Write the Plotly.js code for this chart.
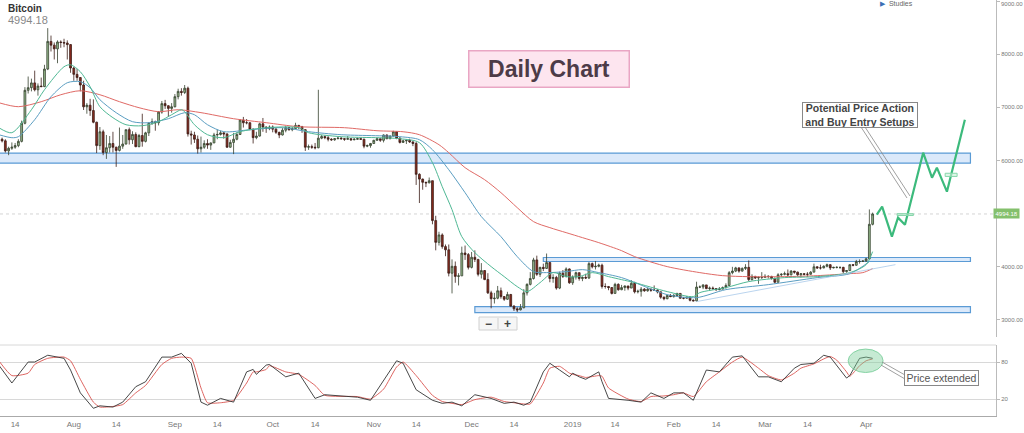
<!DOCTYPE html>
<html><head><meta charset="utf-8">
<script src="https://cdn.plot.ly/plotly-3.0.1.min.js"></script>
<style>html,body{margin:0;padding:0;background:#fff}#chart{width:1024px;height:433px}</style>
</head><body><div id="chart"></div><script>
// ---------- DATA ----------
const firstDay = '2018-07-10';
const open = [
 6400,6370,6180,6230,6250,6280,6360,6700,7320,7370,7460,7330,7400,7390,7720,8240,8170,8100,8230,8220,8210,8180,
 7740,7620,7560,7420,7010,7040,6940,6720,6280,6540,6150,6240,6320,6250,6190,6270,6310,6580,6390,6490,6260,6470,6360,6520,6700,6730,6710,6910,7070,7030,6980,
 7010,7200,7300,7280,7360,6500,6480,6400,6220,6250,6320,6290,6330,6480,6490,6520,6500,6250,6340,6400,6490,6760,6710,6710,6590,6430,6460,6690,6630,6600,
 6630,6590,6530,6480,6570,6620,6580,6600,6660,6640,6580,6250,6260,6250,6240,6420,6450,6430,6400,6390,6410,6420,6410,6400,6410,6390,6400,6410,6400,6270,6280,
 6320,6380,6410,6380,6480,6410,6460,6540,6420,6340,6370,6380,6350,6320,5740,5650,5590,5580,5620,4870,4460,4600,4380,4320,3880,4010,3820,3830,4260,4230,
 3990,4180,4140,3860,3930,3760,3510,3400,3410,3550,3440,3390,3480,3260,3210,3190,3230,3510,3670,3780,4130,3860,3990,3970,4080,3780,3800,3600,3880,3820,3960,
 3700,3810,3890,3780,3800,3790,4060,4000,4010,4030,3630,3630,3610,3500,3670,3570,3610,3640,3600,3690,3530,3540,3580,3550,3580,3560,3560,3530,3430,3400,3460,
 3440,3460,3500,3410,3410,3430,3370,3360,3620,3620,3660,3590,3600,3590,3570,3580,3610,3650,3890,3920,3980,3920,3970,3990,3760,3820,3790,3800,
 3800,3820,3820,3780,3710,3850,3860,3870,3850,3920,3900,3850,3870,3860,3860,3900,4000,3980,3980,4010,4040,3980,3990,3990,3990,3910,3930,4040,4030,4100,4100,
 4110,4150,4800];
const high = [
 6430,6400,6260,6340,6330,6400,6750,7380,7580,7540,7690,7450,7560,7800,8490,8350,8220,8260,8260,8290,8260,8190,
 7760,7720,7570,7500,7080,7160,7150,6730,6630,6580,6480,6460,6540,6260,6620,6480,6580,6620,6550,6530,6500,6880,6540,6720,6790,6750,6930,7120,7140,7040,7080,
 7250,7350,7360,7420,7390,6560,6540,6470,6450,6380,6400,6340,6520,6580,6560,6530,6510,6390,6520,6530,6780,6820,6780,6720,6600,6540,6710,6800,6640,6660,
 6660,6610,6540,6610,6650,6630,6630,6710,6670,6650,6590,6300,6300,6330,7330,6480,6470,6460,6420,6420,6450,6440,6420,6460,6420,6420,6430,6420,6410,6300,6330,
 6390,6430,6410,6490,6490,6470,6560,6550,6440,6390,6390,6410,6360,6350,5760,5660,5600,5680,5620,4960,4660,4630,4420,4420,4140,4100,3880,4380,4400,4260,
 4280,4310,4140,4070,3940,3880,3550,3510,3640,3610,3450,3530,3490,3280,3240,3300,3580,3690,3900,4170,4210,4000,4060,4250,4090,3860,3830,3910,3940,3990,3970,
 3840,3910,3890,3820,3870,4090,4080,4110,4060,4060,3690,3640,3620,3700,3690,3660,3650,3640,3750,3720,3570,3620,3600,3600,3590,3650,3580,3530,3440,3480,3490,
 3490,3510,3500,3430,3440,3440,3390,3720,3650,3670,3660,3630,3630,3600,3620,3630,3690,3920,4000,4000,3990,3990,4050,4120,3860,3830,3820,3900,
 3860,3840,3830,3800,3880,3880,3910,3950,3940,3920,3910,3880,3880,3900,3920,4060,4010,4040,4030,4060,4050,4000,4010,4000,4000,3940,4050,4050,4130,4140,4120,
 4170,5080,5020];
const low = [
 6340,6150,6100,6200,6220,6250,6340,6680,7260,7300,7300,7220,7380,7380,7700,8050,7900,7830,8120,8130,7900,7650,
 7500,7500,7300,6950,6880,6840,6700,6140,6200,6100,6030,6150,6150,5880,6170,6220,6300,6300,6310,6250,6250,6260,6340,6460,6670,6560,6660,6880,6970,6820,6900,
 7000,7150,7220,7250,6450,6300,6330,6130,6150,6220,6220,6200,6330,6400,6470,6410,6240,6240,6120,6380,6480,6620,6680,6570,6320,6400,6450,6540,6520,6570,
 6530,6500,6420,6470,6530,6560,6550,6590,6590,6520,6180,6200,6220,6210,6230,6400,6400,6360,6370,6370,6400,6390,6370,6390,6370,6380,6390,6390,6230,6250,6240,
 6310,6370,6350,6340,6400,6400,6450,6400,6320,6330,6310,6330,6270,5540,5200,5450,5500,5570,4800,4310,4400,4340,4200,3820,3500,3700,3650,3830,4130,3950,
 3970,4090,3820,3780,3750,3490,3220,3310,3390,3400,3360,3380,3260,3170,3150,3180,3220,3460,3650,3760,3830,3810,3920,3960,3710,3700,3570,3580,3790,3800,3680,
 3660,3760,3740,3730,3770,3770,3970,3950,3990,3590,3590,3560,3480,3500,3550,3560,3550,3560,3600,3500,3500,3440,3530,3530,3530,3550,3500,3400,3370,3390,3430,
 3420,3440,3400,3390,3400,3350,3350,3350,3600,3580,3580,3550,3570,3550,3560,3580,3590,3640,3860,3900,3890,3910,3940,3730,3740,3770,3680,3770,
 3800,3780,3760,3690,3700,3810,3840,3820,3840,3870,3830,3800,3840,3810,3850,3900,3960,3950,3970,3990,3940,3970,3970,3960,3880,3890,3920,4010,4020,4060,4090,
 4090,4140,4780];
const close = [
 6370,6180,6230,6250,6280,6360,6700,7320,7370,7460,7330,7400,7390,7720,8240,8170,8100,8230,8220,8210,8180,7740,
 7620,7560,7420,7010,7040,6940,6720,6280,6540,6150,6240,6320,6250,6190,6270,6310,6580,6390,6490,6260,6470,6360,6520,6700,6730,6710,6910,7070,7030,6980,7010,
 7200,7300,7280,7360,6500,6480,6400,6220,6250,6320,6290,6330,6480,6490,6520,6500,6250,6340,6400,6490,6760,6710,6710,6590,6430,6460,6690,6630,6600,6630,
 6590,6530,6480,6570,6620,6580,6600,6660,6640,6580,6250,6260,6250,6240,6420,6450,6430,6400,6390,6410,6420,6410,6400,6410,6390,6400,6410,6400,6270,6280,6320,
 6380,6410,6380,6480,6410,6460,6540,6420,6340,6370,6380,6350,6320,5740,5650,5590,5580,5620,4870,4460,4600,4380,4320,3880,4010,3820,3830,4260,4230,3990,
 4180,4140,3860,3930,3760,3510,3400,3410,3550,3440,3390,3480,3260,3210,3190,3230,3510,3670,3780,4130,3860,3990,3970,4080,3780,3800,3600,3880,3820,3960,3700,
 3810,3890,3780,3800,3790,4060,4000,4010,4030,3630,3630,3610,3500,3670,3570,3610,3640,3600,3690,3530,3540,3580,3550,3580,3560,3560,3530,3430,3400,3460,3440,
 3460,3500,3410,3410,3430,3370,3360,3620,3620,3660,3590,3600,3590,3570,3580,3610,3650,3890,3920,3980,3920,3970,3990,3760,3820,3790,3800,3800,
 3820,3820,3780,3710,3850,3860,3870,3850,3920,3900,3850,3870,3860,3860,3900,4000,3980,3980,4010,4040,3980,3990,3990,3990,3910,3930,4040,4030,4100,4100,4110,
 4150,4800,4994.18];
const lastPrice = 4994.18;

// moving averages
const slowMaDates = ['2018-07-09','2018-07-15','2018-07-22','2018-07-28','2018-08-03','2018-08-09','2018-08-15','2018-08-21','2018-08-27','2018-09-02','2018-09-09','2018-09-19','2018-09-29','2018-10-09','2018-10-23','2018-11-02','2018-11-10','2018-11-15','2018-11-21','2018-11-24','2018-11-29','2018-12-05','2018-12-10','2018-12-15','2018-12-20','2018-12-25','2018-12-30','2019-01-04','2019-01-09','2019-01-16','2019-01-20','2019-01-30','2019-02-09','2019-02-16','2019-02-24','2019-03-07','2019-03-17','2019-03-27','2019-03-31','2019-04-03'];
const slowMa = [7087,7012,7106,7237,7312,7237,7106,6993,6918,6955,6900,6786,6711,6636,6617,6560,6541,6485,6297,6147,5865,5639,5395,5113,4850,4737,4643,4549,4455,4304,4192,4004,3891,3834,3815,3815,3834,3872,3891,3966];
const midMaDates = ['2018-07-09','2018-07-13','2018-07-15','2018-07-20','2018-07-25','2018-07-30','2018-08-03','2018-08-06','2018-08-09','2018-08-14','2018-08-19','2018-08-24','2018-08-30','2018-09-04','2018-09-07','2018-09-11','2018-09-16','2018-09-24','2018-10-04','2018-10-12','2018-10-22','2018-11-09','2018-11-15','2018-11-19','2018-11-24','2018-11-29','2018-12-04','2018-12-10','2018-12-15','2018-12-20','2018-12-24','2018-12-30','2019-01-04','2019-01-09','2019-01-16','2019-01-30','2019-02-08','2019-02-17','2019-03-02','2019-03-17','2019-03-27','2019-04-02'];
const midMa = [6485,6429,6448,6767,7200,7463,7482,7369,7143,6899,6730,6711,6786,6899,6861,6673,6542,6579,6617,6542,6485,6448,6391,6203,5827,5395,4944,4568,4192,3910,3891,3910,3947,3891,3797,3477,3421,3571,3665,3797,3872,4098];
const fastMaDates = ['2018-07-09','2018-07-13','2018-07-19','2018-07-23','2018-07-29','2018-07-31','2018-08-03','2018-08-06','2018-08-09','2018-08-13','2018-08-17','2018-08-22','2018-08-27','2018-08-31','2018-09-03','2018-09-04','2018-09-07','2018-09-11','2018-09-16','2018-09-21','2018-09-29','2018-10-09','2018-10-12','2018-10-22','2018-11-09','2018-11-15','2018-11-19','2018-11-22','2018-11-25','2018-11-28','2018-12-02','2018-12-07','2018-12-11','2018-12-15','2018-12-18','2018-12-22','2018-12-26','2018-12-30','2019-01-03','2019-01-07','2019-01-12','2019-01-16','2019-01-20','2019-01-30','2019-02-07','2019-02-09','2019-02-17','2019-02-24','2019-03-07','2019-03-17','2019-03-27','2019-04-01','2019-04-03'];
const fastMa = [6617,6523,6955,7331,7764,7801,7670,7388,7012,6805,6673,6654,6730,6861,6955,6918,6673,6485,6429,6542,6617,6617,6523,6448,6410,6335,5959,5508,5075,4568,4267,4004,3816,3628,3534,3703,3891,3816,3816,3891,3816,3759,3703,3534,3440,3515,3609,3722,3797,3816,3891,4041,4286];
const trendDates = ['2019-02-08','2019-04-10'];
const trendVals = [3346,4041];

// projected path
const projDates = ['2019-04-04 07:00','2019-04-05 22:00','2019-04-08 22:00','2019-04-10 19:00','2019-04-12 22:00','2019-04-18 12:00','2019-04-21 05:00','2019-04-22 17:00','2019-04-25 19:00','2019-05-01 07:00'];
const projVals = [4981,5132,4568,4925,4793,6147,5677,5865,5414,6767];

// zones (price bands)
const zoneLow = [5950,4100,3140];
const zoneHigh = [6140,4175,3250];
const zoneStart = ['2018-07-01','2018-12-23','2018-12-02'];
const zoneEnd = '2019-05-03';

// stochastic
const stochDates = ['2018-07-09','2018-07-13','2018-07-18','2018-07-20','2018-07-24','2018-07-29','2018-07-31','2018-08-03','2018-08-07','2018-08-09','2018-08-13','2018-08-16','2018-08-20','2018-08-23','2018-08-28','2018-08-31','2018-09-03','2018-09-06','2018-09-09','2018-09-11','2018-09-15','2018-09-19','2018-09-23','2018-09-25','2018-09-26','2018-09-29','2018-09-30','2018-10-05','2018-10-09','2018-10-14','2018-10-17','2018-10-27','2018-10-31','2018-11-04','2018-11-08','2018-11-10','2018-11-14','2018-11-19','2018-11-22','2018-11-25','2018-11-28','2018-12-02','2018-12-07','2018-12-11','2018-12-14','2018-12-17','2018-12-19','2018-12-23','2018-12-25','2018-12-28','2018-12-31','2019-01-01','2019-01-03','2019-01-05','2019-01-09','2019-01-10','2019-01-12','2019-01-18','2019-01-22','2019-01-25','2019-01-29','2019-02-01','2019-02-04','2019-02-07','2019-02-11','2019-02-15','2019-02-19','2019-02-22','2019-02-27','2019-03-02','2019-03-06','2019-03-10','2019-03-12','2019-03-16','2019-03-19','2019-03-21','2019-03-23','2019-03-26','2019-03-27','2019-03-30','2019-04-01','2019-04-03'];
const stochK = [75,46,80,80,91,86,67,30,5,9,7,15,40,48,88,88,94,78,15,10,21,15,64,68,60,75,76,56,62,21,27,23,18,51,82,78,35,18,13,15,9,27,21,13,15,10,15,64,78,67,56,62,56,52,64,48,21,18,15,30,21,30,30,18,67,64,88,90,56,56,48,70,76,78,91,88,75,54,58,86,88,86];
const stochD = [82,58,62,76,86,88,82,52,15,7,8,11,30,42,76,86,88,86,38,14,14,18,46,64,64,68,74,64,60,42,26,24,20,36,72,80,58,26,16,13,11,19,23,16,14,12,12,46,70,73,62,60,58,55,58,57,38,20,16,24,25,27,30,24,48,64,80,88,70,58,51,62,70,77,85,89,83,64,57,74,82,85];

// axis ticks
const xTickVals = ['2018-07-14','2018-08-01','2018-08-14','2018-09-01','2018-09-14','2018-10-01','2018-10-14','2018-11-01','2018-11-14','2018-12-01','2018-12-14','2019-01-01','2019-01-14','2019-02-01','2019-02-14','2019-03-01','2019-03-14','2019-04-01'];
const xTickText = ['14','Aug','14','Sep','14','Oct','14','Nov','14','Dec','14','2019','14','Feb','14','Mar','14','Apr'];
const priceTicks = [3000,4000,6000,7000,8000,9000];
const priceTickText = ['3000.00','4000.00','6000.00','7000.00','8000.00',''];
const topPriceLabel = '9000.00';
const stochTicks = [20,80];
const stochTickText = ['20','80'];

// ---------- CHART ----------
function dayList(start, n){
  const out=[]; const t0=Date.parse(start+'T00:00:00Z');
  for(let i=0;i<n;i++) out.push(new Date(t0+i*86400000).toISOString().slice(0,10));
  return out;
}
const dates = dayList(firstDay, close.length);

const W=1024,H=433,M={l:0,r:28,t:0,b:17};
const PW=W-M.l-M.r, PH=H-M.t-M.b;
const px = x => x/PW, py = y => 1 - y/PH;
const FONT = 'Arial, "Liberation Sans", sans-serif';
const xRange = ['2018-07-09 08:40','2019-05-10 20:10'];

const traces = [
  {type:'candlestick', x:dates, open:open, high:high, low:low, close:close, xaxis:'x', yaxis:'y',
   increasing:{fillcolor:'#95b98c', line:{color:'#36412f', width:0.8}},
   decreasing:{fillcolor:'#8c2b1f', line:{color:'#3b1d17', width:0.8}},
   whiskerwidth:0, hoverinfo:'skip', showlegend:false},
  {type:'scatter', mode:'lines', x:slowMaDates, y:slowMa, line:{color:'#e06a66', width:1, shape:'spline', smoothing:0.8}, hoverinfo:'skip', showlegend:false},
  {type:'scatter', mode:'lines', x:midMaDates, y:midMa, line:{color:'#5b9ec2', width:1, shape:'spline', smoothing:0.8}, hoverinfo:'skip', showlegend:false},
  {type:'scatter', mode:'lines', x:fastMaDates, y:fastMa, line:{color:'#4fb894', width:1, shape:'spline', smoothing:0.8}, hoverinfo:'skip', showlegend:false},
  {type:'scatter', mode:'lines', x:trendDates, y:trendVals, line:{color:'#a8c9ea', width:0.8}, hoverinfo:'skip', showlegend:false},
  {type:'scatter', mode:'lines', x:projDates, y:projVals, line:{color:'#3cba7c', width:2.2}, hoverinfo:'skip', showlegend:false},
  {type:'scatter', mode:'lines', x:stochDates, y:stochD, xaxis:'x', yaxis:'y2', line:{color:'#d9534f', width:0.9, shape:'spline', smoothing:0.5}, hoverinfo:'skip', showlegend:false},
  {type:'scatter', mode:'lines', x:stochDates, y:stochK, xaxis:'x', yaxis:'y2', line:{color:'#333333', width:0.9}, hoverinfo:'skip', showlegend:false}
];

const shapes = [];
for(let i=0;i<zoneLow.length;i++){
  shapes.push({type:'rect', xref:'x', yref:'y', x0:zoneStart[i], x1:zoneEnd, y0:zoneLow[i], y1:zoneHigh[i],
    fillcolor:'rgba(190,215,245,0.55)', line:{color:'#5b9bd5', width:1.2}, layer:'below'});
}
shapes.push({type:'line', xref:'x', yref:'y', x0:xRange[0], x1:xRange[1], y0:lastPrice, y1:lastPrice, line:{color:'#c8c8c8', width:0.8, dash:'dot'}, layer:'below'});
shapes.push({type:'rect', xref:'x', yref:'y', x0:'2019-04-10 12:00', x1:'2019-04-15 12:00', y0:4965, y1:5000, fillcolor:'rgba(160,225,190,0.6)', line:{color:'#86d6aa', width:1}});
shapes.push({type:'rect', xref:'x', yref:'y', x0:'2019-04-25 06:00', x1:'2019-04-28 22:00', y0:5700, y1:5760, fillcolor:'rgba(200,240,215,0.6)', line:{color:'#86d6aa', width:1}});
shapes.push({type:'circle', xref:'x', yref:'y2', x0:'2019-03-26 12:00', x1:'2019-04-06 05:00', y0:63, y1:101, fillcolor:'rgba(120,205,150,0.42)', line:{color:'#86d3a4', width:1}});
// pane separator
shapes.push({type:'line', xref:'paper', yref:'paper', x0:0, x1:1, y0:py(345), y1:py(345), line:{color:'#d8d8d8', width:1}});
// pointer lines
shapes.push({type:'line', xref:'paper', yref:'paper', x0:px(861), y0:py(127), x1:px(907), y1:py(198), line:{color:'#888', width:0.8}});
shapes.push({type:'line', xref:'paper', yref:'paper', x0:px(865), y0:py(127), x1:px(910), y1:py(196), line:{color:'#888', width:0.8}});
shapes.push({type:'line', xref:'paper', yref:'paper', x0:px(905), y0:py(375), x1:px(882), y1:py(362), line:{color:'#888', width:0.8}});
shapes.push({type:'line', xref:'paper', yref:'paper', x0:px(905), y0:py(379), x1:px(881), y1:py(365), line:{color:'#888', width:0.8}});
// zoom buttons
shapes.push({type:'rect', xref:'paper', yref:'paper', x0:px(479), x1:px(517), y0:py(330), y1:py(317), fillcolor:'#f6f6f6', line:{color:'#d0d0d0', width:1}});
shapes.push({type:'line', xref:'paper', yref:'paper', x0:px(498), x1:px(498), y0:py(329), y1:py(318), line:{color:'#d0d0d0', width:1}});

const C = {xanchor:'center', yanchor:'middle', showarrow:false};
const annotations = [
  {xref:'paper', yref:'paper', x:px(6), y:py(8.5), xanchor:'left', yanchor:'middle', text:'<b>Bitcoin</b>', showarrow:false, font:{family:FONT, size:10, color:'#333'}},
  {xref:'paper', yref:'paper', x:px(6), y:py(20), xanchor:'left', yanchor:'middle', text:'4994.18', showarrow:false, font:{family:FONT, size:11, color:'#888'}},
  {xref:'paper', yref:'paper', x:px(878), y:py(4), xanchor:'left', yanchor:'middle', text:'<span style="color:#3a6fb5">▶</span>  Studies', showarrow:false, font:{family:FONT, size:7, color:'#666'}},
  {xref:'paper', yref:'paper', x:1, y:1, xanchor:'left', yanchor:'top', xshift:3, yshift:1, text:topPriceLabel, showarrow:false, font:{family:FONT, size:6, color:'#777'}},
  Object.assign({xref:'paper', yref:'paper', x:px(549), y:py(69), text:'<b>Daily Chart</b>', font:{family:FONT, size:23, color:'#4d3b47'}, bgcolor:'#fde5ef', bordercolor:'#e9a6c4', borderwidth:1.5, borderpad:0, width:159, height:35}, C),
  Object.assign({xref:'paper', yref:'paper', x:px(859.5), y:py(115), text:'<b>Potential Price Action<br>and Buy Entry Setups</b>', align:'center', font:{family:FONT, size:10.5, color:'#444'}, bgcolor:'#fff', bordercolor:'#888', borderwidth:1, borderpad:0, width:114, height:24}, C),
  Object.assign({xref:'paper', yref:'paper', x:px(941), y:py(377.5), text:'Price extended', align:'center', font:{family:FONT, size:10.5, color:'#555'}, bgcolor:'#fff', bordercolor:'#888', borderwidth:1, borderpad:0, width:73, height:14}, C),
  {xref:'paper', yref:'y', x:1, y:lastPrice, xanchor:'left', yanchor:'middle', xshift:-3, text:'4994.18', showarrow:false, font:{family:FONT, size:6, color:'#fff'}, bgcolor:'#84c06c', borderpad:1.5},
  Object.assign({xref:'paper', yref:'paper', x:px(488.5), y:py(323.5), text:'<b>−</b>', font:{family:FONT, size:12, color:'#444'}}, C),
  Object.assign({xref:'paper', yref:'paper', x:px(507.5), y:py(323.5), text:'<b>+</b>', font:{family:FONT, size:12, color:'#444'}}, C)
];

const layout = {
  width:W, height:H, margin:M, paper_bgcolor:'#fff', plot_bgcolor:'#fff', showlegend:false, boxgap:0.2,
  font:{family:FONT},
  xaxis:{type:'date', range:xRange, anchor:'y2', showgrid:false, zeroline:false, showline:true, linecolor:'#aaa', linewidth:1,
         tickmode:'array', tickvals:xTickVals, ticktext:xTickText, ticks:'', tickfont:{size:8, color:'#777'},
         rangeslider:{visible:false}, fixedrange:true},
  yaxis:{domain:[py(337),1], range:[2680,9019], side:'right', anchor:'x', showgrid:false, zeroline:false, showline:true, linecolor:'#bbb',
         ticks:'outside', ticklen:3, tickcolor:'#bbb', tickmode:'array', tickvals:priceTicks, ticktext:priceTickText,
         tickfont:{size:6, color:'#777'}, fixedrange:true},
  yaxis2:{domain:[0,py(345)], range:[-7.5,107.6], side:'right', anchor:'x', showgrid:true, gridcolor:'#d8d8d8', zeroline:false, showline:true, linecolor:'#bbb',
          ticks:'outside', ticklen:3, tickcolor:'#bbb', tickmode:'array', tickvals:stochTicks, ticktext:stochTickText,
          tickfont:{size:6, color:'#777'}, fixedrange:true},
  shapes:shapes, annotations:annotations
};

Plotly.newPlot('chart', traces, layout, {staticPlot:true, displayModeBar:false});
</script></body></html>
